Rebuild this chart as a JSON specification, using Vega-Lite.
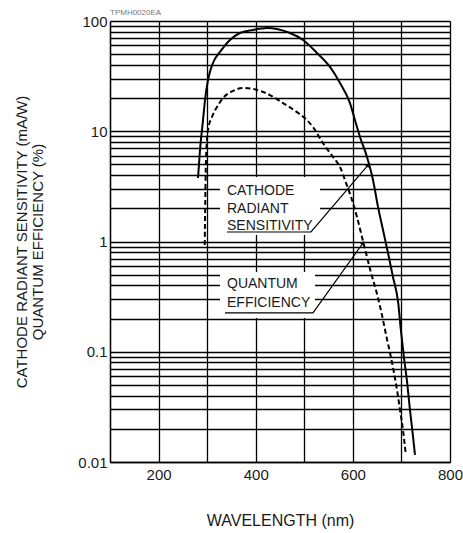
{
  "$schema": "https://vega.github.io/schema/vega-lite/v6.json",
  "width": 340,
  "height": 441,
  "autosize": {"type": "none"},
  "padding": {"left": 110, "top": 21, "right": 13, "bottom": 71},
  "background": "white",
  "title": {
    "text": "TPMH0020EA",
    "anchor": "start",
    "frame": "group",
    "fontSize": 8,
    "font": "Liberation Sans",
    "fontWeight": "normal",
    "color": "#777777",
    "baseline": "alphabetic",
    "offset": 1,
    "dy": 10
  },
  "config": {
    "view": {"stroke": null},
    "font": "Liberation Sans"
  },
  "datasets": {
    "curves": [
      {"series": "S", "wl": 281.2, "v": 3.77},
      {"series": "S", "wl": 285.3, "v": 6.76},
      {"series": "S", "wl": 291.5, "v": 12.6},
      {"series": "S", "wl": 295.6, "v": 19.2},
      {"series": "S", "wl": 301.8, "v": 29.2},
      {"series": "S", "wl": 312.0, "v": 41.6},
      {"series": "S", "wl": 326.5, "v": 52.4},
      {"series": "S", "wl": 347.0, "v": 67.3},
      {"series": "S", "wl": 367.6, "v": 77.8},
      {"series": "S", "wl": 394.4, "v": 82.9},
      {"series": "S", "wl": 423.2, "v": 86.4},
      {"series": "S", "wl": 443.8, "v": 84.6},
      {"series": "S", "wl": 470.6, "v": 77.8},
      {"series": "S", "wl": 497.4, "v": 67.3},
      {"series": "S", "wl": 526.2, "v": 51.3},
      {"series": "S", "wl": 553.0, "v": 38.3},
      {"series": "S", "wl": 573.5, "v": 27.4},
      {"series": "S", "wl": 594.1, "v": 18.0},
      {"series": "S", "wl": 604.4, "v": 12.6},
      {"series": "S", "wl": 614.7, "v": 8.87},
      {"series": "S", "wl": 629.1, "v": 5.84},
      {"series": "S", "wl": 641.5, "v": 3.61},
      {"series": "S", "wl": 651.8, "v": 2.06},
      {"series": "S", "wl": 662.1, "v": 1.27},
      {"series": "S", "wl": 672.4, "v": 0.787},
      {"series": "S", "wl": 682.6, "v": 0.477},
      {"series": "S", "wl": 693.4, "v": 0.277},
      {"series": "S", "wl": 698.9, "v": 0.157},
      {"series": "S", "wl": 705.1, "v": 0.0896},
      {"series": "S", "wl": 711.9, "v": 0.052},
      {"series": "S", "wl": 717.6, "v": 0.0296},
      {"series": "S", "wl": 723.1, "v": 0.0183},
      {"series": "S", "wl": 727.9, "v": 0.0116},
      {"series": "Q", "wl": 295.0, "v": 0.93},
      {"series": "Q", "wl": 296.2, "v": 2.38},
      {"series": "Q", "wl": 297.6, "v": 5.49},
      {"series": "Q", "wl": 301.8, "v": 10.3},
      {"series": "Q", "wl": 310.0, "v": 13.5},
      {"series": "Q", "wl": 320.3, "v": 16.6},
      {"series": "Q", "wl": 332.6, "v": 20.0},
      {"series": "Q", "wl": 353.2, "v": 23.2},
      {"series": "Q", "wl": 373.8, "v": 24.7},
      {"series": "Q", "wl": 402.6, "v": 23.7},
      {"series": "Q", "wl": 429.4, "v": 21.3},
      {"series": "Q", "wl": 456.2, "v": 18.0},
      {"series": "Q", "wl": 485.0, "v": 14.9},
      {"series": "Q", "wl": 505.6, "v": 12.6},
      {"series": "Q", "wl": 518.0, "v": 10.9},
      {"series": "Q", "wl": 538.5, "v": 7.8},
      {"series": "Q", "wl": 559.1, "v": 5.84},
      {"series": "Q", "wl": 573.5, "v": 4.74},
      {"series": "Q", "wl": 585.9, "v": 3.4},
      {"series": "Q", "wl": 596.2, "v": 2.54},
      {"series": "Q", "wl": 608.5, "v": 1.67},
      {"series": "Q", "wl": 618.8, "v": 1.1},
      {"series": "Q", "wl": 627.1, "v": 0.787},
      {"series": "Q", "wl": 637.4, "v": 0.518},
      {"series": "Q", "wl": 647.6, "v": 0.363},
      {"series": "Q", "wl": 659.0, "v": 0.225},
      {"series": "Q", "wl": 669.3, "v": 0.136},
      {"series": "Q", "wl": 679.6, "v": 0.0841},
      {"series": "Q", "wl": 689.9, "v": 0.0479},
      {"series": "Q", "wl": 697.1, "v": 0.0296},
      {"series": "Q", "wl": 703.2, "v": 0.0195},
      {"series": "Q", "wl": 708.4, "v": 0.0123}
    ],
    "boxes": [
      {"wl": 326.5, "wl2": 532.4, "v": 3.85, "v2": 1.146},
      {"wl": 326.5, "wl2": 522.1, "v": 0.529, "v2": 0.202}
    ],
    "labels": [
      {"t": "CATHODE", "wl": 340.9, "v": 2.64},
      {"t": "RADIANT", "wl": 340.9, "v": 1.81},
      {"t": "SENSITIVITY", "wl": 340.9, "v": 1.27},
      {"t": "QUANTUM", "wl": 340.9, "v": 0.379},
      {"t": "EFFICIENCY", "wl": 340.9, "v": 0.255}
    ],
    "leaders": [
      {"lead": "S", "wl": 340.9, "v": 1.22},
      {"lead": "S", "wl": 513.8, "v": 1.22},
      {"lead": "S", "wl": 631.2, "v": 4.94},
      {"lead": "Q", "wl": 336.8, "v": 0.225},
      {"lead": "Q", "wl": 517.9, "v": 0.225},
      {"lead": "Q", "wl": 620.9, "v": 0.969}
    ]
  },
  "encoding": {
    "x": {
      "field": "wl",
      "type": "quantitative",
      "scale": {"type": "linear", "domain": [100, 800], "nice": false, "zero": false},
      "axis": {
        "title": "WAVELENGTH (nm)",
        "values": [100, 200, 300, 400, 500, 600, 700, 800],
        "labelExpr": "datum.value % 200 == 0 ? datum.label : ''",
        "labelFlush": false,
        "labelOverlap": false,
        "labelFontSize": 15,
        "labelColor": "#1a1a1a",
        "labelPadding": 5,
        "ticks": false,
        "grid": true,
        "gridColor": "#000000",
        "gridOpacity": 1,
        "gridWidth": 1.3,
        "domainColor": "#000000",
        "domainWidth": 1.3,
        "titleFontSize": 16,
        "titleFontWeight": "normal",
        "titleColor": "#1a1a1a",
        "titleY": 50,
        "titleX": 170
      }
    },
    "y": {
      "field": "v",
      "type": "quantitative",
      "scale": {"type": "log", "domain": [0.01, 100], "nice": false},
      "axis": {
        "title": ["CATHODE RADIANT SENSITIVITY (mA/W)", "QUANTUM EFFICIENCY (%)"],
        "values": [0.01, 0.02, 0.03, 0.04, 0.05, 0.06, 0.07, 0.08, 0.09,
                   0.1, 0.2, 0.3, 0.4, 0.5, 0.6, 0.7, 0.8, 0.9,
                   1, 2, 3, 4, 5, 6, 7, 8, 9,
                   10, 20, 30, 40, 50, 60, 70, 80, 90, 100],
        "format": "~g",
        "labelExpr": "datum.value == 0.01 || datum.value == 0.1 || datum.value == 1 || datum.value == 10 || datum.value == 100 ? datum.label : ''",
        "labelOverlap": false,
        "labelFlush": false,
        "labelFontSize": 15,
        "labelColor": "#1a1a1a",
        "labelPadding": 3,
        "ticks": false,
        "grid": true,
        "gridColor": "#000000",
        "gridOpacity": 1,
        "gridWidth": 1.3,
        "domainColor": "#000000",
        "domainWidth": 1.3,
        "titleFontSize": 15,
        "titleFontWeight": "normal",
        "titleColor": "#1a1a1a",
        "titleLineHeight": 16,
        "titleAngle": -90,
        "titleAlign": "center",
        "titleBaseline": "bottom",
        "titleX": -81,
        "titleY": 220.5
      }
    }
  },
  "layer": [
    {
      "data": {"name": "boxes"},
      "mark": {"type": "rect", "fill": "white", "stroke": null},
      "encoding": {
        "x2": {"field": "wl2"},
        "y2": {"field": "v2"}
      }
    },
    {
      "data": {"name": "curves"},
      "transform": [{"filter": "datum.series == 'S'"}],
      "mark": {"type": "line", "color": "#000000", "strokeWidth": 2, "interpolate": "monotone"},
      "encoding": {}
    },
    {
      "data": {"name": "curves"},
      "transform": [{"filter": "datum.series == 'Q'"}],
      "mark": {"type": "line", "color": "#000000", "strokeWidth": 2, "strokeDash": [5, 3], "interpolate": "monotone"},
      "encoding": {}
    },
    {
      "data": {"name": "leaders"},
      "mark": {"type": "line", "color": "#000000", "strokeWidth": 1.2},
      "encoding": {"detail": {"field": "lead"}}
    },
    {
      "data": {"name": "leaders"},
      "transform": [{"filter": "datum.lead == 'S' && datum.wl > 600"}],
      "mark": {"type": "point", "shape": "triangle-up", "filled": true, "color": "#000000", "size": 22, "angle": 40, "opacity": 1},
      "encoding": {}
    },
    {
      "data": {"name": "leaders"},
      "transform": [{"filter": "datum.lead == 'Q' && datum.wl > 600"}],
      "mark": {"type": "point", "shape": "triangle-up", "filled": true, "color": "#000000", "size": 22, "angle": 35, "opacity": 1},
      "encoding": {}
    },
    {
      "data": {"name": "labels"},
      "mark": {"type": "text", "align": "left", "baseline": "alphabetic", "fontSize": 14, "font": "Liberation Sans", "color": "#1a1a1a"},
      "encoding": {"text": {"field": "t"}}
    }
  ]
}
